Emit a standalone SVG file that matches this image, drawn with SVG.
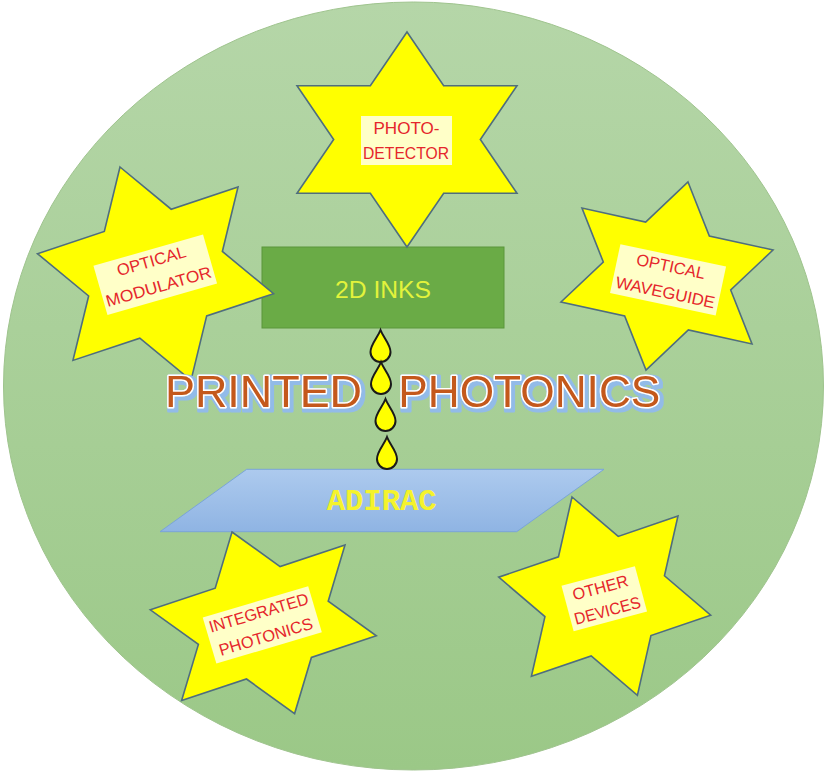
<svg xmlns="http://www.w3.org/2000/svg" xmlns:xlink="http://www.w3.org/1999/xlink" width="825" height="773" viewBox="0 0 825 773">
  <defs>
    <linearGradient id="bg" x1="0" y1="0" x2="0" y2="1">
      <stop offset="0" stop-color="#b5d6a8"/>
      <stop offset="1" stop-color="#9bc887"/>
    </linearGradient>
    <linearGradient id="blue" x1="0" y1="0" x2="0" y2="1">
      <stop offset="0" stop-color="#adcaee"/>
      <stop offset="1" stop-color="#8fb4e3"/>
    </linearGradient>
    <filter id="glow" x="-5%" y="-20%" width="110%" height="150%">
      <feMorphology in="SourceAlpha" operator="dilate" radius="2" result="d"/>
      <feOffset in="d" dx="1.5" dy="2" result="o"/>
      <feFlood flood-color="#92bbe8" result="c"/>
      <feComposite in="c" in2="o" operator="in" result="s"/>
      <feMerge>
        <feMergeNode in="s"/>
        <feMergeNode in="SourceGraphic"/>
      </feMerge>
    </filter>
    <path id="hex" d="M0,-1 L0.2887,-0.5 L0.866,-0.5 L0.5774,0 L0.866,0.5 L0.2887,0.5 L0,1 L-0.2887,0.5 L-0.866,0.5 L-0.5774,0 L-0.866,-0.5 L-0.2887,-0.5 Z" fill="#ffff00" stroke="#4f6e7e" stroke-width="1.6" stroke-linejoin="miter" vector-effect="non-scaling-stroke"/>
    <path id="drop" d="M0,0 C3,8 10,14 10,22 A10,10 0 0 1 -10,22 C-10,14 -3,8 0,0 Z" fill="#ffff00" stroke="#1a1a1a" stroke-width="2"/>
    <style>
      .lbl { font-family: "Liberation Sans", Arial, sans-serif; font-size: 16.5px; fill: #e5262b; text-anchor: middle; }
      .hl { fill: #ffffc8; }
      .big { font-family: "Liberation Sans", Arial, sans-serif; font-size: 44px; fill: #c4581a; stroke: #ffffff; stroke-width: 3; stroke-linejoin: round; paint-order: stroke; }
    </style>
  </defs>

  <rect x="0" y="0" width="825" height="773" fill="#ffffff"/>
  <ellipse id="circle" cx="413.5" cy="386" rx="410" ry="384" fill="url(#bg)" stroke="#9fc48e" stroke-width="1"/>

  <g id="inks">
    <rect x="262" y="247" width="242" height="81" fill="#6aab46" stroke="#5b963a" stroke-width="1"/>
    <text x="383" y="298" font-family="'Liberation Sans', Arial, sans-serif" font-size="24" fill="#e2f33c" text-anchor="middle" textLength="96" lengthAdjust="spacingAndGlyphs">2D INKS</text>
  </g>

  <g id="adirac">
    <polygon points="246.7,469.3 604,469.3 516.7,531.7 160,531.7" fill="url(#blue)" stroke="#7aa4d8" stroke-width="1"/>
    <text x="381.7" y="509.5" font-family="'Liberation Mono', 'Courier New', monospace" font-weight="bold" font-size="30" fill="#f5f32c" text-anchor="middle" textLength="110" lengthAdjust="spacingAndGlyphs">ADIRAC</text>
  </g>

  <g id="connectors">
    <use href="#drop" transform="translate(380.5,330)"/>
    <use href="#drop" transform="translate(381,362)"/>
    <use href="#drop" transform="translate(385.5,399)"/>
    <use href="#drop" transform="translate(387,437)"/>
  </g>

  <g id="photodetector">
    <use href="#hex" transform="matrix(127,0,0,107.5,407,139.5)"/>
    <rect class="hl" x="361" y="116" width="91" height="49"/>
    <text class="lbl" x="406.5" y="133.5" textLength="66" lengthAdjust="spacingAndGlyphs">PHOTO-</text>
    <text class="lbl" x="406" y="158.5" textLength="86" lengthAdjust="spacingAndGlyphs">DETECTOR</text>
  </g>

  <g id="optical-modulator">
    <use href="#hex" transform="matrix(115.8,-38.5,35.5,106.7,155.5,273.7)"/>
    <g transform="translate(156.5,279) rotate(-16)">
      <rect class="hl" x="-57" y="-30" width="114" height="51"/>
      <text class="lbl" x="0" y="-13" textLength="71" lengthAdjust="spacingAndGlyphs">OPTICAL</text>
      <text class="lbl" x="0" y="13.5" textLength="109" lengthAdjust="spacingAndGlyphs">MODULATOR</text>
    </g>
  </g>

  <g id="optical-waveguide">
    <use href="#hex" transform="matrix(110.3,24.2,-21,94,667,276)"/>
    <g transform="translate(667,284.7) rotate(12)">
      <rect class="hl" x="-54" y="-30" width="108" height="50"/>
      <text class="lbl" x="0" y="-13" textLength="70" lengthAdjust="spacingAndGlyphs">OPTICAL</text>
      <text class="lbl" x="0" y="13.5" textLength="101" lengthAdjust="spacingAndGlyphs">WAVEGUIDE</text>
    </g>
  </g>

  <g id="integrated-photonics">
    <use href="#hex" transform="matrix(112.4,-37.4,31.3,90.8,263.3,622.8)"/>
    <g transform="translate(263.7,629.7) rotate(-16.5)">
      <rect class="hl" x="-55" y="-29" width="110" height="48"/>
      <text class="lbl" x="0" y="-12" textLength="103" lengthAdjust="spacingAndGlyphs">INTEGRATED</text>
      <text class="lbl" x="0" y="13" textLength="97" lengthAdjust="spacingAndGlyphs">PHOTONICS</text>
    </g>
  </g>

  <g id="other-devices">
    <use href="#hex" transform="matrix(103.5,-35.3,32.7,99.2,604.7,596.2)"/>
    <g transform="translate(605.7,604) rotate(-15)">
      <rect class="hl" x="-38" y="-29" width="76" height="47"/>
      <text class="lbl" x="-1" y="-11.5" textLength="57" lengthAdjust="spacingAndGlyphs">OTHER</text>
      <text class="lbl" x="0" y="12.5" textLength="68" lengthAdjust="spacingAndGlyphs">DEVICES</text>
    </g>
  </g>

  <g id="title" filter="url(#glow)">
    <text class="big" x="165" y="406.7" textLength="197" lengthAdjust="spacingAndGlyphs">PRINTED</text>
    <text class="big" x="398.3" y="406.7" textLength="262" lengthAdjust="spacingAndGlyphs">PHOTONICS</text>
  </g>
</svg>
